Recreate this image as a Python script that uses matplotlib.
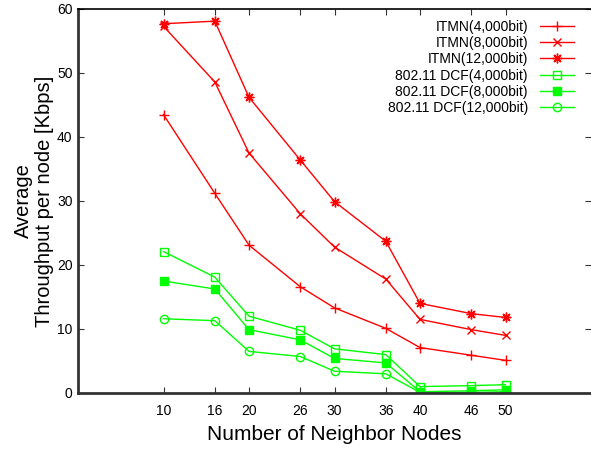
import matplotlib
matplotlib.use("Agg")
import matplotlib.pyplot as plt

plt.rcParams['font.family'] = ['Liberation Sans', 'DejaVu Sans']

nodes = [10, 16, 20, 26, 30, 36, 40, 46, 50]
itmn_4000 = [43.5, 31.2, 23.1, 16.6, 13.3, 10.1, 7.1, 5.9, 5.1]
itmn_8000 = [57.3, 48.6, 37.5, 28.0, 22.8, 17.8, 11.5, 9.9, 9.0]
itmn_12000 = [57.7, 58.1, 46.2, 36.4, 29.9, 23.7, 14.0, 12.4, 11.8]
dcf_4000 = [22.1, 18.1, 12.0, 9.8, 6.9, 6.0, 1.0, 1.15, 1.3]
dcf_8000 = [17.5, 16.25, 9.9, 8.3, 5.4, 4.7, 0.2, 0.35, 0.5]
dcf_12000 = [11.6, 11.3, 6.5, 5.7, 3.4, 3.0, 0.1, 0.1, 0.2]
labels = ["ITMN(4,000bit)", "ITMN(8,000bit)", "ITMN(12,000bit)",
          "802.11 DCF(4,000bit)", "802.11 DCF(8,000bit)", "802.11 DCF(12,000bit)"]
y_ticks = [0, 10, 20, 30, 40, 50, 60]

W, H = 591, 450
fig = plt.figure(figsize=(W / 100, H / 100), dpi=100)
ax = fig.add_axes([78 / W, (H - 393) / H, (591 - 78) / W, 384 / H])

red = '#ff0000'
green = '#00ff00'
ax.plot(nodes, itmn_4000, color=red, lw=1, marker='+', ms=7, mew=1, label=labels[0])
ax.plot(nodes, itmn_8000, color=red, lw=1, marker='x', ms=6, mew=1, label=labels[1])
ax.plot(nodes, itmn_12000, color=red, lw=1, marker=(8, 2, 0), ms=7, mew=1, label=labels[2])
ax.plot(nodes, dcf_4000, color=green, lw=1, marker='s', ms=6, mfc='none', mew=1, label=labels[3])
ax.plot(nodes, dcf_8000, color=green, lw=1, marker='s', ms=6, mew=1, label=labels[4])
ax.plot(nodes, dcf_12000, color=green, lw=1, marker='o', ms=6, mfc='none', mew=1, label=labels[5])

ax.set_xlim(0, 60)
ax.set_ylim(0, 60)
ax.set_xticks(nodes)
ax.set_xticklabels([str(n) for n in nodes])
ax.set_yticks(y_ticks)

ax.tick_params(axis='both', direction='in', length=4, width=0.8, labelsize=10,
               top=True, right=True, color='#333333')
ax.tick_params(axis='x', pad=8)
ax.tick_params(axis='y', pad=4)

for s in ['left', 'bottom']:
    ax.spines[s].set_linewidth(2)
    ax.spines[s].set_color('#333333')
ax.spines['top'].set_linewidth(1.2)
ax.spines['top'].set_color('black')
ax.spines['right'].set_visible(False)

ax.set_xlabel("Number of Neighbor Nodes", fontsize=15, labelpad=5)
ax.set_ylabel("Average\nThroughput per node [Kbps]", fontsize=14.5, labelpad=2,
              linespacing=1.15)

leg = ax.legend(loc='upper right', frameon=False, markerfirst=False, fontsize=10,
                handlelength=2.5, handletextpad=0.85, labelspacing=0.17,
                borderaxespad=0.0, bbox_to_anchor=((580 - 78) / 513, (393 - 14) / 384))

fig.savefig("out.png", dpi=100)
